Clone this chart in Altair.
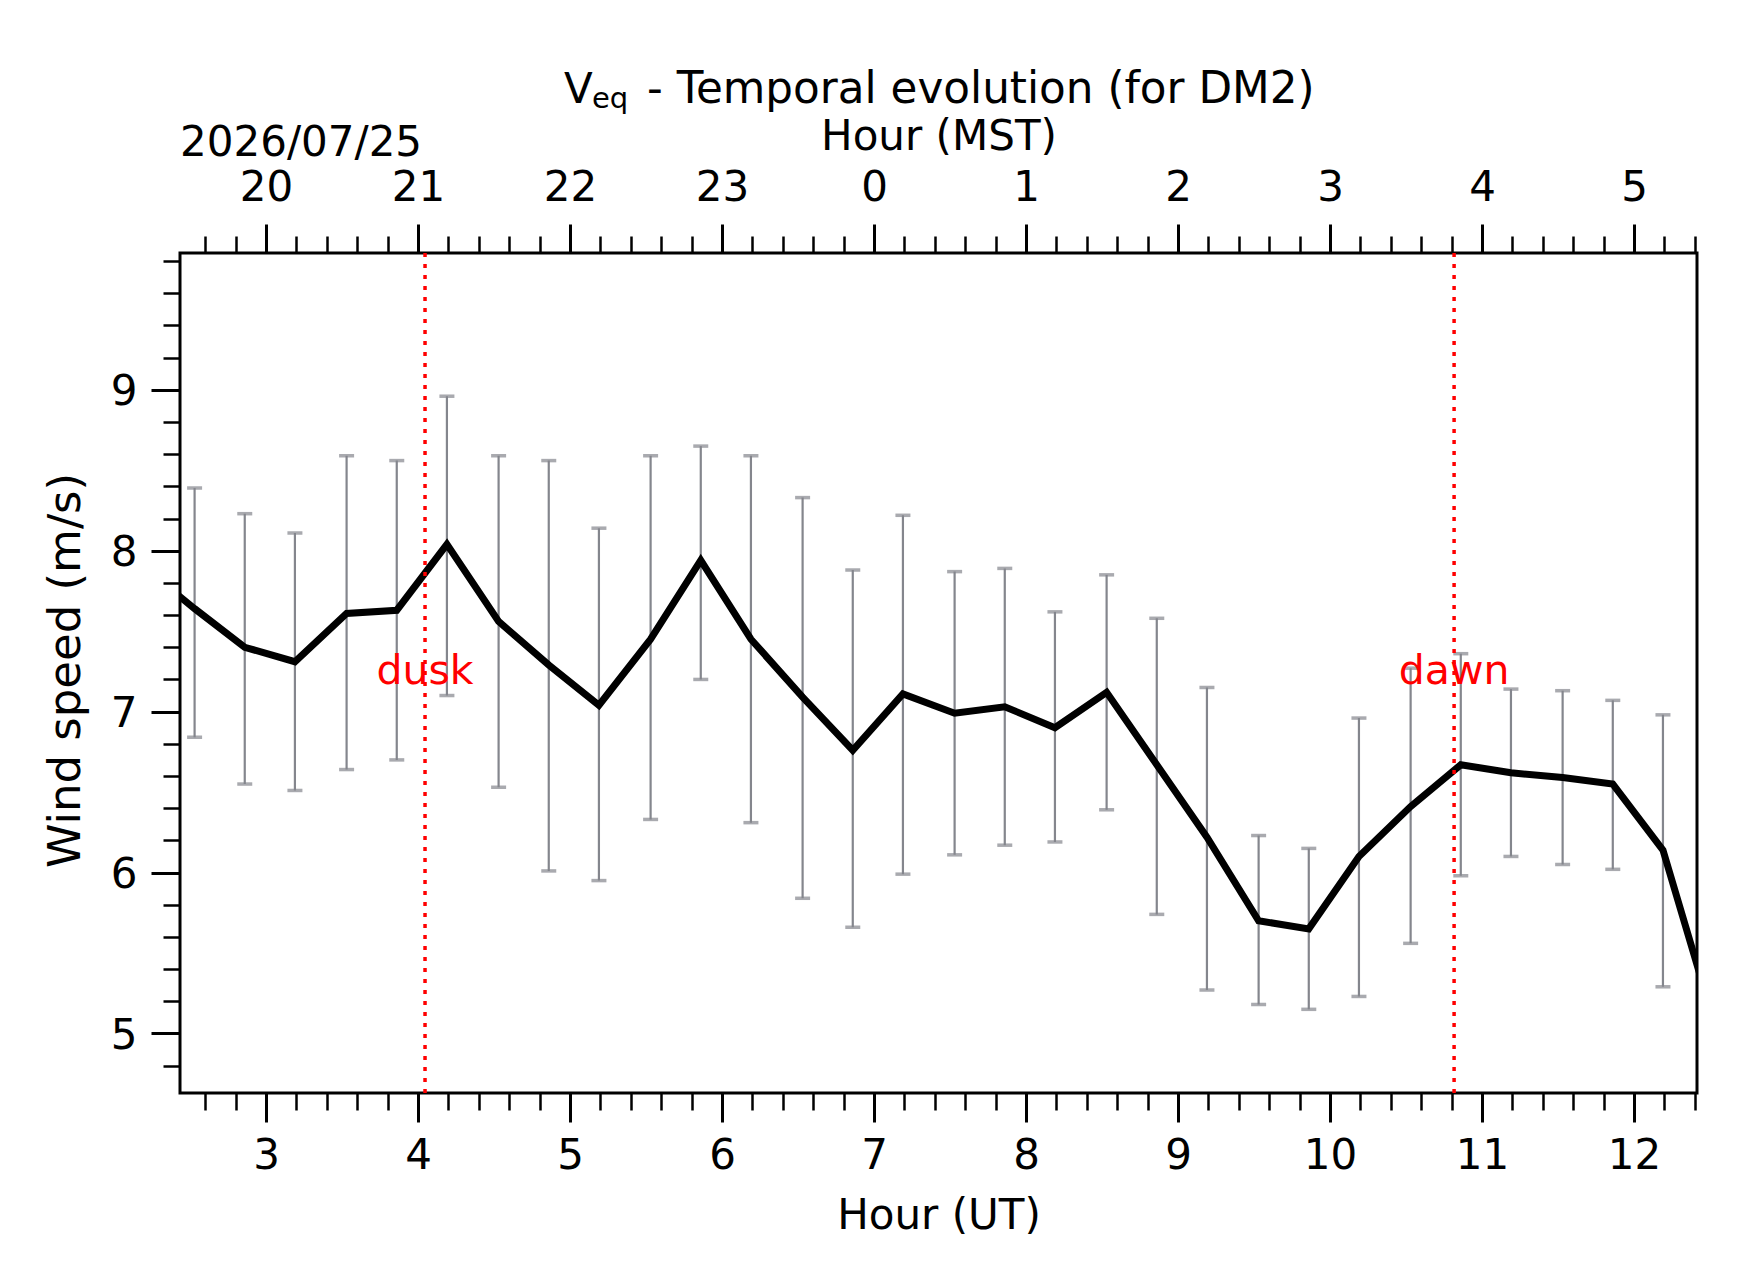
import altair as alt
import pandas as pd

# ---- data ----
hours_ut = [2.53, 2.86, 3.19, 3.53, 3.86, 4.19, 4.53, 4.86, 5.19, 5.53,
            5.86, 6.19, 6.53, 6.86, 7.19, 7.53, 7.86, 8.19, 8.53, 8.86,
            9.19, 9.53, 9.86, 10.19, 10.53, 10.86, 11.19, 11.53, 11.86, 12.19]
wind = [7.64, 7.40, 7.31, 7.61, 7.63, 8.04, 7.56, 7.29, 7.04, 7.45,
        7.94, 7.45, 7.09, 6.76, 7.11, 6.99, 7.03, 6.90, 7.12, 6.67,
        6.22, 5.70, 5.65, 6.10, 6.41, 6.67, 6.62, 6.59, 6.55, 6.14]
upper = [8.39, 8.23, 8.11, 8.59, 8.56, 8.96, 8.59, 8.56, 8.14, 8.59,
         8.65, 8.59, 8.33, 7.88, 8.22, 7.87, 7.89, 7.62, 7.85, 7.58,
         7.15, 6.23, 6.15, 6.96, 7.27, 7.36, 7.14, 7.13, 7.07, 6.98]
lower = [6.84, 6.55, 6.51, 6.64, 6.70, 7.10, 6.53, 6.01, 5.95, 6.33,
         7.20, 6.31, 5.84, 5.66, 5.99, 6.11, 6.17, 6.19, 6.39, 5.74,
         5.27, 5.18, 5.15, 5.23, 5.56, 5.98, 6.10, 6.05, 6.02, 5.29]
# line continues beyond the visible window on both sides (clipped)
line_hours = [2.19] + hours_ut + [12.52]
line_wind = [7.90] + wind + [5.09]

event_hours = [4.046, 10.816]
event_labels = ["dusk", "dawn"]
event_label_level = [7.17, 7.17]

x_ticks = [round(2.6 + 0.2 * i, 1) for i in range(50)]
y_ticks = [round(4.8 + 0.2 * i, 1) for i in range(26)]

title_main = "- Temporal evolution (for DM2)"
date_label = "2026/07/25"

FONT = "DejaVu Sans"
GRAY = "#84868d"
W, H = 1517, 840

df = pd.DataFrame({"t": hours_ut, "v": wind, "lo": lower, "hi": upper})
line_df = pd.DataFrame({"t": line_hours, "v": line_wind})
ev_df = pd.DataFrame({"t": event_hours, "label": event_labels, "level": event_label_level})
one = pd.DataFrame({"k": [0]})

xs = alt.Scale(domain=[2.434, 12.414], nice=False, zero=False)
ys = alt.Scale(domain=[4.63, 9.85], nice=False, zero=False)

is_major = "abs(datum.value - round(datum.value)) < 0.001"
tsize = {"condition": {"test": is_major, "value": 29}, "value": 17}
twidth = {"condition": {"test": is_major, "value": 3}, "value": 2.5}

common_axis = dict(
    tickSize=tsize, tickWidth=twidth, tickColor="black",
    labelFont=FONT, labelFontSize=42, labelColor="black",
    labelOverlap=False, labelFlush=False, grid=False, domain=False,
    titleFont=FONT, titleFontSize=42, titleFontWeight="normal", titleColor="black",
)

x_bottom = alt.Axis(
    orient="bottom", values=x_ticks,
    labelExpr=f"{is_major} ? format(round(datum.value), 'd') : ''",
    labelPadding=46, labelBaseline="alphabetic",
    title="Hour (UT)", titleX=W / 2, titleY=135, titleBaseline="alphabetic", titleAlign="center",
    **common_axis,
)
x_top = alt.Axis(
    orient="top", values=x_ticks,
    labelExpr=f"{is_major} ? format(((round(datum.value) - 7) % 24 + 24) % 24, 'd') : ''",
    labelPadding=24, labelBaseline="alphabetic",
    title="Hour (MST)", titleX=W / 2, titleY=-103.5, titleBaseline="alphabetic", titleAlign="center",
    **common_axis,
)
y_axis_opts = dict(common_axis)
y_axis_opts["titleFontSize"] = 45
y_left = alt.Axis(
    orient="left", values=y_ticks,
    labelExpr=f"{is_major} ? format(round(datum.value), 'd') : ''",
    labelPadding=14, labelBaseline="alphabetic", labelOffset=15,
    title="Wind speed (m/s)", titleX=-101, titleY=H / 2 - 3, titleAngle=270,
    titleBaseline="alphabetic", titleAlign="center",
    **y_axis_opts,
)


def Y(field):
    return alt.Y(field, type="quantitative", scale=ys, axis=y_left)


stems = alt.Chart(df).mark_rule(color=GRAY, strokeWidth=2.2).encode(
    x=alt.X("t:Q", scale=xs, axis=x_bottom),
    y=Y("lo"), y2="hi",
)
cap_lo = alt.Chart(df).mark_tick(orient="horizontal", size=15, thickness=3.5, color=GRAY).encode(
    x=alt.X("t:Q", scale=xs, axis=None), y=Y("lo"))
cap_hi = alt.Chart(df).mark_tick(orient="horizontal", size=15, thickness=3.5, color=GRAY).encode(
    x=alt.X("t:Q", scale=xs, axis=None), y=Y("hi"))
line = alt.Chart(line_df).mark_line(color="black", strokeWidth=7, clip=True).encode(
    x=alt.X("t:Q", scale=xs, axis=None), y=Y("v"))
ev_rules = alt.Chart(ev_df).mark_rule(color="#ff0000", strokeWidth=3.5, strokeDash=[4, 7]).encode(
    x=alt.X("t:Q", scale=xs, axis=x_top))
ev_text = alt.Chart(ev_df).mark_text(color="#ff0000", font=FONT, fontSize=41,
                                     align="center", baseline="alphabetic").encode(
    x=alt.X("t:Q", scale=xs, axis=None), y=Y("level"), text="label:N")

t_v = alt.Chart(one).mark_text(font=FONT, fontSize=42, align="left", baseline="alphabetic",
                               color="black").encode(
    x=alt.value(384), y=alt.value(-150), text=alt.value("V"))
t_eq = alt.Chart(one).mark_text(font=FONT, fontSize=29, align="left", baseline="alphabetic",
                                color="black").encode(
    x=alt.value(412), y=alt.value(-145), text=alt.value("eq"))
t_rest = alt.Chart(one).mark_text(font=FONT, fontSize=43.7, align="left", baseline="alphabetic",
                                  color="black").encode(
    x=alt.value(467), y=alt.value(-150), text=alt.value(title_main))
t_date = alt.Chart(one).mark_text(font=FONT, fontSize=42, align="left", baseline="alphabetic",
                                  color="black").encode(
    x=alt.value(0), y=alt.value(-97), text=alt.value(date_label))

chart = alt.layer(
    stems, cap_lo, cap_hi, line, ev_rules, ev_text, t_v, t_eq, t_rest, t_date
).resolve_axis(x="independent").properties(
    width=W, height=H,
    autosize=alt.AutoSizeParams(type="none"),
    padding={"left": 172, "top": 245, "right": 37, "bottom": 180},
    background="white",
).configure_view(stroke="black", strokeWidth=3)

chart.save("out.html", embed_options={"renderer": "svg", "actions": False})
